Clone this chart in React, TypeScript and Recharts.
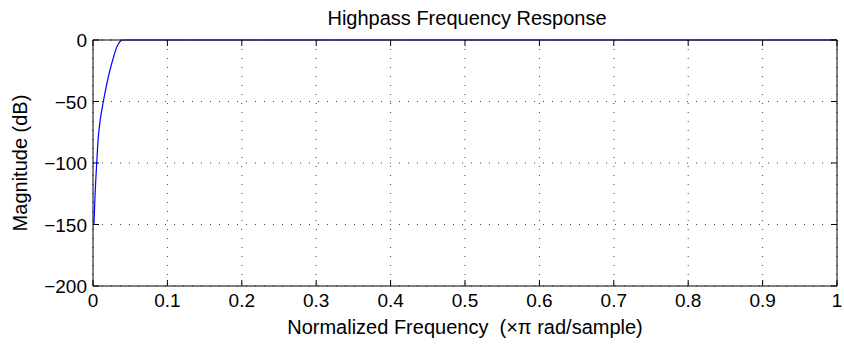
import React from "react";
import { LineChart, Line, XAxis, YAxis, CartesianGrid } from "recharts";

const freq = [0.0013, 0.0027, 0.005, 0.007, 0.0095, 0.0139, 0.0184, 0.023, 0.0273, 0.0318, 0.0363, 0.0407, 0.05, 0.1, 0.3, 0.5, 0.7, 1];
const magnitude = [-150, -127, -100, -80, -66, -50, -36, -24, -14.5, -6, -1.2, 0, 0, 0, 0, 0, 0, 0];
const xTicks = [0, 0.1, 0.2, 0.3, 0.4, 0.5, 0.6, 0.7, 0.8, 0.9, 1];
const yTicks = [-200, -150, -100, -50, 0];

const data = freq.map((f, i) => ({ f, mag: magnitude[i] }));

const font = "'Liberation Sans', Arial, sans-serif";
const minus = (v: number) => String(v).replace("-", "\u2212");

function BottomTick(props: any) {
  const { x, y, payload } = props;
  return (
    <g>
      <line x1={x} x2={x} y1={y} y2={y - 6} stroke="#000" />
      <text x={x} y={y + 21} textAnchor="middle" fontSize={19} fontFamily={font} fill="#000">
        {payload.value}
      </text>
    </g>
  );
}

function TopTick(props: any) {
  const { x, y } = props;
  return <line x1={x} x2={x} y1={y} y2={y + 6} stroke="#000" />;
}

function LeftTick(props: any) {
  const { x, y, payload } = props;
  return (
    <g>
      <line x1={x} x2={x + 6} y1={y} y2={y} stroke="#000" />
      <text x={x - 6} y={y + 7} textAnchor="end" fontSize={19} fontFamily={font} fill="#000">
        {minus(payload.value)}
      </text>
    </g>
  );
}

function RightTick(props: any) {
  const { x, y } = props;
  return <line x1={x} x2={x - 6} y1={y} y2={y} stroke="#000" />;
}

export default function App() {
  return (
    <div style={{ position: "absolute", left: 0, top: 0, width: 844, height: 345, background: "#fff", fontFamily: font }}>
      <LineChart width={844} height={345} data={data} margin={{ top: 39, right: 6, left: 92, bottom: 58 }}>
        <CartesianGrid strokeDasharray="1 8" stroke="#444" />
        <XAxis
          dataKey="f"
          type="number"
          domain={[0, 1]}
          ticks={xTicks}
          height={1}
          tickSize={0}
          tickMargin={0}
          tick={<BottomTick />}
          axisLine={{ stroke: "#000" }}
          tickLine={false}
          interval={0}
        />
        <XAxis
          xAxisId="top"
          dataKey="f"
          orientation="top"
          type="number"
          domain={[0, 1]}
          ticks={xTicks}
          height={1}
          tickSize={0}
          tickMargin={0}
          tick={<TopTick />}
          axisLine={{ stroke: "#000" }}
          tickLine={false}
          interval={0}
        />
        <YAxis
          type="number"
          domain={[-200, 0]}
          ticks={yTicks}
          width={1}
          tickSize={0}
          tickMargin={0}
          tick={<LeftTick />}
          axisLine={{ stroke: "#000" }}
          tickLine={false}
          interval={0}
        />
        <YAxis
          yAxisId="right"
          orientation="right"
          type="number"
          domain={[-200, 0]}
          ticks={yTicks}
          width={1}
          tickSize={0}
          tickMargin={0}
          tick={<RightTick />}
          axisLine={{ stroke: "#000" }}
          tickLine={false}
          interval={0}
        />
        <Line
          xAxisId="top"
          yAxisId="right"
          type="monotone"
          dataKey="mag"
          stroke="none"
          dot={false}
          legendType="none"
          isAnimationActive={false}
        />
        <Line
          type="monotone"
          dataKey="mag"
          stroke="#0000ff"
          strokeWidth={1.2}
          dot={false}
          isAnimationActive={false}
        />
      </LineChart>
      <div style={{ position: "absolute", left: 0, width: 844, top: 6, textAlign: "center", paddingLeft: 90, boxSizing: "border-box", fontSize: 20, lineHeight: "24px" }}>
        Highpass Frequency Response
      </div>
      <div style={{ position: "absolute", left: 0, width: 844, top: 315, textAlign: "center", paddingLeft: 86, boxSizing: "border-box", fontSize: 20, lineHeight: "24px", whiteSpace: "pre" }}>
        {"Normalized Frequency  (\u00d7\u03c0 rad/sample)"}
      </div>
      <div style={{ position: "absolute", left: 20, top: 163, width: 0, height: 0 }}>
        <div style={{ position: "absolute", transform: "translate(-50%, -50%) rotate(-90deg)", whiteSpace: "nowrap", fontSize: 20, lineHeight: "24px" }}>
          Magnitude (dB)
        </div>
      </div>
    </div>
  );
}
